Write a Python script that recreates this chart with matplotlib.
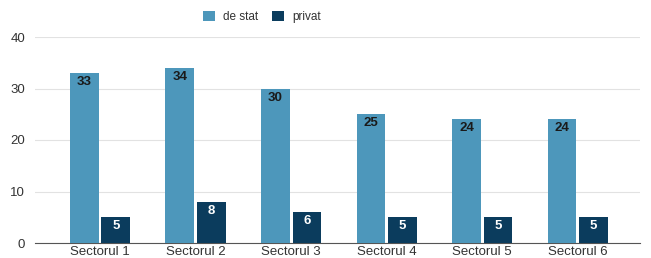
import matplotlib
matplotlib.use('Agg')
import matplotlib.pyplot as plt
import numpy as np

# === DATA ===
sectors = ['Sectorul 1', 'Sectorul 2', 'Sectorul 3', 'Sectorul 4', 'Sectorul 5', 'Sectorul 6']
de_stat = [33, 34, 30, 25, 24, 24]
privat = [5, 8, 6, 5, 5, 5]
series_names = ['de stat', 'privat']
yticks = [0, 10, 20, 30, 40]

plt.rcParams['font.family'] = ['Liberation Sans', 'DejaVu Sans']

c_stat = '#4d97bb'
c_priv = '#0b3c5d'

fig = plt.figure(figsize=(6.51, 2.58), dpi=100)
ax = fig.add_axes([35 / 651, 15 / 258, 605 / 651, 206 / 258])

x = np.arange(len(sectors))
w = 0.30
off = 0.165
b1 = ax.bar(x - off, de_stat, w, color=c_stat, label=series_names[0], zorder=3)
b2 = ax.bar(x + off, privat, w, color=c_priv, label=series_names[1], zorder=3)

for bar, v in zip(b1, de_stat):
    ax.text(bar.get_x() + bar.get_width() / 2, v - 0.6, str(v), ha='center', va='top',
            fontsize=9.5, color='#1a1a1a', fontweight='bold', zorder=4)
for bar, v in zip(b2, privat):
    ax.text(bar.get_x() + bar.get_width() / 2, v - 0.6, str(v), ha='center', va='top',
            fontsize=9.5, color='white', fontweight='bold', zorder=4)

ax.set_ylim(0, 40)
ax.set_xlim(-0.68, 5.65)
ax.set_yticks(yticks)
ax.set_xticks(x)
ax.set_xticklabels(sectors)
ax.grid(axis='y', color='#e2e2e2', linewidth=0.8, zorder=0)
for s in ['top', 'right', 'left']:
    ax.spines[s].set_visible(False)
ax.spines['bottom'].set_color('#555555')
ax.spines['bottom'].set_linewidth(0.8)
ax.tick_params(axis='both', length=0, labelsize=9.5, colors='#333333')
ax.tick_params(axis='x', pad=2)
ax.tick_params(axis='y', pad=7)

fig.legend(handles=[b1, b2], labels=series_names, loc='center', bbox_to_anchor=(262 / 651, 1 - 17 / 258),
           ncol=2, frameon=False, fontsize=8.5, handlelength=1.0, handleheight=1.0,
           columnspacing=1.2, handletextpad=0.7, labelcolor='#333333')

fig.savefig('out.png', dpi=100)
